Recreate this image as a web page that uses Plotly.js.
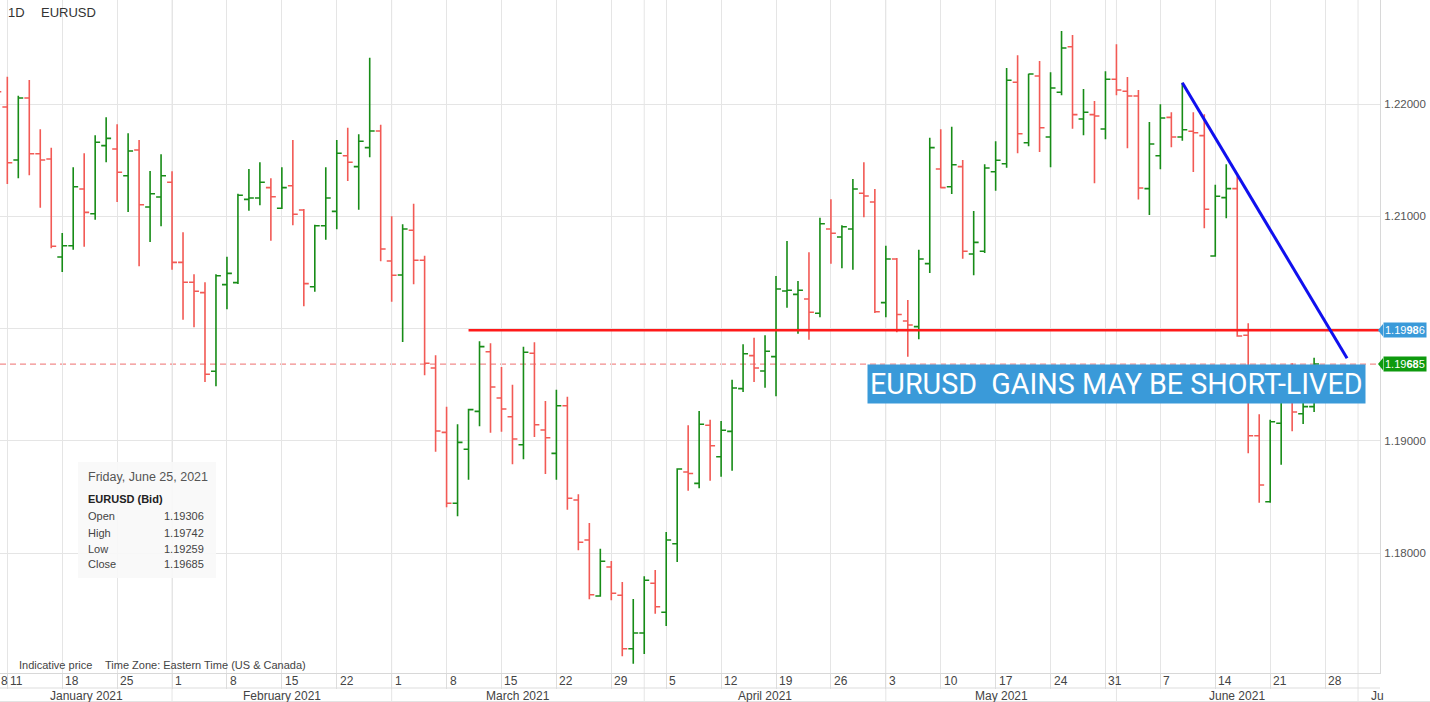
<!DOCTYPE html>
<html>
<head>
<meta charset="utf-8">
<script src="https://cdn.plot.ly/plotly-3.0.1.min.js"></script>
<style>html,body{margin:0;padding:0;background:#fff;}#chart{width:1430px;height:702px;}</style>
</head>
<body>
<div id="chart"></div>
<script>
// ---------- DATA ----------
const symbol = 'EURUSD';
const timeframe = '1D';
const dates = [
 '2021-01-08',
 '2021-01-11','2021-01-12','2021-01-13','2021-01-14','2021-01-15',
 '2021-01-18','2021-01-19','2021-01-20','2021-01-21','2021-01-22',
 '2021-01-25','2021-01-26','2021-01-27','2021-01-28','2021-01-29',
 '2021-02-01','2021-02-02','2021-02-03','2021-02-04','2021-02-05',
 '2021-02-08','2021-02-09','2021-02-10','2021-02-11','2021-02-12',
 '2021-02-15','2021-02-16','2021-02-17','2021-02-18','2021-02-19',
 '2021-02-22','2021-02-23','2021-02-24','2021-02-25','2021-02-26',
 '2021-03-01','2021-03-02','2021-03-03','2021-03-04','2021-03-05',
 '2021-03-08','2021-03-09','2021-03-10','2021-03-11','2021-03-12',
 '2021-03-15','2021-03-16','2021-03-17','2021-03-18','2021-03-19',
 '2021-03-22','2021-03-23','2021-03-24','2021-03-25','2021-03-26',
 '2021-03-29','2021-03-30','2021-03-31','2021-04-01','2021-04-02',
 '2021-04-05','2021-04-06','2021-04-07','2021-04-08','2021-04-09',
 '2021-04-12','2021-04-13','2021-04-14','2021-04-15','2021-04-16',
 '2021-04-19','2021-04-20','2021-04-21','2021-04-22','2021-04-23',
 '2021-04-26','2021-04-27','2021-04-28','2021-04-29','2021-04-30',
 '2021-05-03','2021-05-04','2021-05-05','2021-05-06','2021-05-07',
 '2021-05-10','2021-05-11','2021-05-12','2021-05-13','2021-05-14',
 '2021-05-17','2021-05-18','2021-05-19','2021-05-20','2021-05-21',
 '2021-05-24','2021-05-25','2021-05-26','2021-05-27','2021-05-28',
 '2021-05-31','2021-06-01','2021-06-02','2021-06-03','2021-06-04',
 '2021-06-07','2021-06-08','2021-06-09','2021-06-10','2021-06-11',
 '2021-06-14','2021-06-15','2021-06-16','2021-06-17','2021-06-18',
 '2021-06-21','2021-06-22','2021-06-23','2021-06-24','2021-06-25'
];
const open = [
 1.22700,
 1.21974,1.21502,1.22054,1.21558,1.21511,
 1.20638,1.20739,1.21244,1.21024,1.21630,
 1.21600,1.21362,1.21591,1.21084,1.21173,
 1.21304,1.20591,1.20413,1.20321,1.19621,
 1.20392,1.20410,1.21152,1.21164,1.21256,
 1.21072,1.21273,1.21057,1.20374,1.20917,
 1.21045,1.21540,1.21443,1.21612,1.21760,
 1.20603,1.20478,1.20876,1.20609,1.19650,
 1.19077,1.18445,1.18926,1.19264,1.19795,
 1.19383,1.19216,1.18967,1.19781,1.19098,
 1.18890,1.19314,1.18475,1.18118,1.17620,
 1.17878,1.17626,1.17150,1.17290,1.17733,
 1.17475,1.18085,1.18724,1.18623,1.19140,
 1.18860,1.19086,1.19466,1.19760,1.19623,
 1.19751,1.20336,1.20306,1.20264,1.20137,
 1.20888,1.20817,1.20888,1.21206,1.21128,
 1.20232,1.20621,1.20069,1.20018,1.20579,
 1.21422,1.21264,1.21443,1.20665,1.20689,
 1.21398,1.21469,1.22194,1.21656,1.22250,
 1.21707,1.22105,1.22511,1.21867,1.21906,
 1.21778,1.22221,1.22114,1.22072,1.21247,
 1.21540,1.21882,1.21707,1.21758,1.21719,
 1.20647,1.21167,1.21247,1.19941,1.19047,
 1.18459,1.19158,1.19436,1.19243,1.19306
];
const high = [
 1.22830,
 1.22244,1.22075,1.22215,1.21776,1.21612,
 1.20852,1.21437,1.21562,1.21722,1.21882,
 1.21820,1.21740,1.21680,1.21404,1.21553,
 1.21402,1.20858,1.20484,1.20413,1.20484,
 1.20641,1.21202,1.21422,1.21482,1.21339,
 1.21437,1.21680,1.21065,1.20926,1.21437,
 1.21680,1.21790,1.21731,1.22413,1.21817,
 1.21001,1.20930,1.21113,1.20650,1.19763,
 1.19305,1.19149,1.19288,1.19888,1.19870,
 1.19659,1.19501,1.19840,1.19879,1.19356,
 1.19457,1.19394,1.18525,1.18270,1.18041,
 1.17931,1.17744,1.17593,1.17795,1.17851,
 1.18190,1.18757,1.19140,1.19267,1.19190,
 1.19178,1.19546,1.19861,1.19920,1.19941,
 1.20469,1.20781,1.20425,1.20680,1.20988,
 1.21152,1.20921,1.21333,1.21482,1.21244,
 1.20739,1.20630,1.20256,1.20703,1.21701,
 1.21776,1.21799,1.21502,1.21048,1.21464,
 1.21669,1.22321,1.22435,1.22271,1.22384,
 1.22283,1.22651,1.22615,1.22134,1.22028,
 1.22292,1.22532,1.22241,1.22126,1.21841,
 1.21998,1.21927,1.22191,1.21927,1.21909,
 1.21282,1.21464,1.21357,1.20048,1.19238,
 1.19190,1.19480,1.19692,1.19472,1.19742
];
const low = [
 1.21660,
 1.21289,1.21339,1.21366,1.21077,1.20716,
 1.20505,1.20703,1.20730,1.20971,1.21482,
 1.21128,1.21039,1.20556,1.20772,1.20912,
 1.20525,1.20080,1.20012,1.19525,1.19487,
 1.20173,1.20398,1.21051,1.21099,1.20784,
 1.21066,1.20921,1.20199,1.20329,1.20793,
 1.20885,1.21315,1.21060,1.21526,1.20600,
 1.20240,1.19882,1.20395,1.19585,1.18905,
 1.18410,1.18329,1.18655,1.19131,1.19074,
 1.19083,1.18793,1.18837,1.19036,1.18706,
 1.18655,1.18388,1.18027,1.17590,1.17614,
 1.17581,1.17083,1.17017,1.17103,1.17462,
 1.17353,1.17923,1.18557,1.18579,1.18646,
 1.18682,1.18736,1.19436,1.19525,1.19475,
 1.19398,1.20187,1.19955,1.19902,1.20101,
 1.20579,1.20538,1.20525,1.20992,1.20140,
 1.20101,1.19968,1.19751,1.19906,1.20496,
 1.21250,1.21199,1.20623,1.20476,1.20674,
 1.21229,1.21434,1.21562,1.21624,1.21573,
 1.21437,1.22078,1.21781,1.21722,1.21295,
 1.21687,1.22078,1.21606,1.21150,1.21012,
 1.21419,1.21615,1.21674,1.21395,1.20894,
 1.20641,1.20983,1.19929,1.18890,1.18451,
 1.18451,1.18789,1.19086,1.19151,1.19259
];
const close = [
 1.22110,
 1.21478,1.22054,1.21558,1.21502,1.20734,
 1.20739,1.21264,1.21036,1.21660,1.21695,
 1.21393,1.21582,1.21104,1.21202,1.21362,
 1.20591,1.20413,1.20333,1.19594,1.20472,
 1.20493,1.21188,1.21164,1.21304,1.21175,
 1.21256,1.21019,1.20401,1.20917,1.21164,
 1.21562,1.21482,1.21669,1.21760,1.20710,
 1.20476,1.20888,1.20609,1.19692,1.19089,
 1.18445,1.18988,1.19279,1.19840,1.19481,
 1.19285,1.19018,1.19790,1.19145,1.19029,
 1.19314,1.18490,1.18098,1.17631,1.17929,
 1.17644,1.17150,1.17290,1.17760,1.17524,
 1.18118,1.18751,1.18711,1.19149,1.18958,
 1.19095,1.19472,1.19777,1.19650,1.19799,
 1.20354,1.20342,1.20342,1.20146,1.20935,
 1.20850,1.20908,1.21244,1.21182,1.20151,
 1.20621,1.20126,1.20033,1.20621,1.21612,
 1.21256,1.21460,1.20689,1.20769,1.21431,
 1.21500,1.22212,1.21736,1.22268,1.21790,
 1.22143,1.22500,1.21906,1.21927,1.21894,
 1.22221,1.22126,1.22072,1.21253,1.21645,
 1.21876,1.21707,1.21772,1.21745,1.21063,
 1.21179,1.21247,1.19935,1.19047,1.18608,
 1.19172,1.19436,1.19258,1.19306,1.19685
];
// horizontal resistance level and trend line
const resistanceLevel = 1.19986;
const resistanceFrom = '2021-03-10';
const resistanceTo = '2021-07-05';
const trendX = ['2021-06-09', '2021-06-30'];
const trendY = [1.22191, 1.19736];
// axis labels
const yTickVals = [1.18, 1.19, 1.20, 1.21, 1.22];
const yTickText = ['1.18000', '1.19000', '', '1.21000', '1.22000'];
const weekTicks = ['2021-01-11','2021-01-18','2021-01-25','2021-02-01','2021-02-08','2021-02-15','2021-02-22',
 '2021-03-01','2021-03-08','2021-03-15','2021-03-22','2021-03-29','2021-04-05','2021-04-12','2021-04-19','2021-04-26',
 '2021-05-03','2021-05-10','2021-05-17','2021-05-24','2021-05-31','2021-06-07','2021-06-14','2021-06-21','2021-06-28'];
const weekLabels = ['11','18','25','1','8','15','22','1','8','15','22','29','5','12','19','26','3','10','17','24','31','7','14','21','28'];
const firstPartialLabel = '8';   // label of the partly visible first week at the left edge
const monthStarts = ['2021-02-01','2021-03-01','2021-04-01','2021-05-03','2021-06-01','2021-07-01'];
const monthLabels = ['January 2021','February 2021','March 2021','April 2021','May 2021','June 2021'];
const monthLabelAt = ['2021-01-20 04:00','2021-02-15','2021-03-16 12:00','2021-04-16','2021-05-17 12:00','2021-06-16'];
const clippedMonthLabel = 'Ju';
const clippedMonthAt = '2021-07-02';
const headline = 'EURUSD\u00a0 GAINS MAY BE SHORT-LIVED';
const infoDate = 'Friday, June 25, 2021';
const infoTitle = 'EURUSD (Bid)';
const infoRows = ['Open', 'High', 'Low', 'Close'];
const footLeft = 'Indicative price';
const footRight = 'Time Zone: Eastern Time (US & Canada)';

// ---------- LAYOUT HELPERS (pixel -> paper) ----------
const W = 1430, H = 702, ML = 0, MR = 50, MT = 0, MB = 29;
const PW = W - ML - MR, PH = H - MT - MB;
const px = x => (x - ML) / PW;
const py = y => (MT + PH - y) / PH;

const GREEN = '#178c17', RED = '#f25a55', GRID = '#e5e5e5';
const FONT = 'Liberation Sans, Arial, sans-serif';

const last = dates.length - 1;

const traces = [
  {
    type: 'ohlc', x: dates, open: open, high: high, low: low, close: close,
    increasing: {line: {color: GREEN, width: 1.6}},
    decreasing: {line: {color: RED, width: 1.6}},
    tickwidth: 0.45, hoverinfo: 'none', showlegend: false
  },
  {
    type: 'scatter', mode: 'lines', x: [resistanceFrom, resistanceTo], y: [resistanceLevel, resistanceLevel],
    line: {color: '#ff1a1a', width: 2.6}, hoverinfo: 'none', showlegend: false, cliponaxis: true
  },
  {
    type: 'scatter', mode: 'lines', x: trendX, y: trendY,
    line: {color: '#1010ee', width: 3}, hoverinfo: 'none', showlegend: false
  }
];

const shapes = [];
// month gridlines (plot + bottom bar)
monthStarts.forEach(d => {
  shapes.push({type: 'line', xref: 'x', yref: 'paper', x0: d, x1: d, y0: py(702), y1: 1,
    line: {color: GRID, width: 1}, layer: 'below'});
});
// last-price dashed line
shapes.push({type: 'line', xref: 'paper', yref: 'y', x0: 0, x1: 1, y0: close[last], y1: close[last],
  line: {color: '#f28c8c', width: 1.2, dash: '6px,4px'}, layer: 'below'});
// horizontal line separating tick row and month row
shapes.push({type: 'line', xref: 'paper', yref: 'paper', x0: 0, x1: 1, y0: py(688), y1: py(688),
  line: {color: '#dddddd', width: 1}});
shapes.push({type: 'line', xref: 'paper', yref: 'paper', x0: 0, x1: px(W), y0: py(701.5), y1: py(701.5),
  line: {color: '#e3e3e3', width: 1}});
// info panel background
shapes.push({type: 'rect', xref: 'paper', yref: 'paper', x0: px(78), x1: px(216), y0: py(578), y1: py(462),
  fillcolor: 'rgba(248,248,248,0.92)', line: {width: 0}});
// pointers on price labels
[[resistanceLevel, '#3a9ad9'], [close[last], '#0e9a0e']].forEach(([v, c]) => {
  shapes.push({type: 'path', xref: 'paper', yref: 'y',
    path: `M ${px(1378)} ${v} L ${px(1383)} ${v + 0.00055} L ${px(1383)} ${v - 0.00055} Z`,
    fillcolor: c, line: {width: 0}});
});

const ann = [];
const txt = (text, x, y, opts) => Object.assign({
  text: text, xref: 'paper', yref: 'paper', x: px(x), y: py(y), xanchor: 'left', yanchor: 'middle',
  showarrow: false, font: {family: FONT, size: 11, color: '#444'}
}, opts || {});

ann.push(txt(timeframe, 6, 12, {font: {family: FONT, size: 13, color: '#333'}}));
ann.push(txt(symbol, 39, 12, {font: {family: FONT, size: 13, color: '#333'}}));

ann.push(txt(infoDate, 86, 477, {font: {family: FONT, size: 12.5, color: '#555'}}));
ann.push(txt('<b>' + infoTitle + '</b>', 86, 499, {font: {family: FONT, size: 11, color: '#222'}}));
const infoVals = [open[last], high[last], low[last], close[last]];
const rowY = [516, 533, 548.5, 564];
infoRows.forEach((r, i) => {
  ann.push(txt(r, 86, rowY[i], {font: {family: FONT, size: 11, color: '#444'}}));
  ann.push(txt(infoVals[i].toFixed(5), 206, rowY[i], {xanchor: 'right', font: {family: FONT, size: 11, color: '#444'}}));
});

ann.push(txt(footLeft, 17, 665, {font: {family: FONT, size: 11, color: '#444'}}));
ann.push(txt(footRight, 103, 665, {font: {family: FONT, size: 11, color: '#444'}}));

// headline box
ann.push(txt(headline, 1116.5, 384, {xanchor: 'center', bgcolor: '#3a9ad9', borderpad: 2,
  font: {family: 'Roboto, Liberation Sans, sans-serif', size: 28.7, color: '#ffffff'}}));

// price labels on the right
const priceLabel = (v, bg) => {
  const s = v.toFixed(5);
  return {text: s.slice(0, 4) + '<b>' + s.slice(4, 6) + '</b>' + s.slice(6), xref: 'paper', yref: 'y',
    x: px(1383), y: v, xanchor: 'left', yanchor: 'middle', showarrow: false, bgcolor: bg, borderpad: 1,
    font: {family: FONT, size: 11, color: '#ffffff'}};
};
ann.push(priceLabel(resistanceLevel, '#3a9ad9'));
ann.push(priceLabel(close[last], '#0e9a0e'));

// weekly tick labels (left aligned to gridlines)
ann.push(txt(firstPartialLabel, -1, 681, {font: {family: FONT, size: 12, color: '#444'}}));
weekTicks.forEach((d, i) => {
  ann.push({text: weekLabels[i], xref: 'x', yref: 'paper', x: d, y: py(681), xanchor: 'left', yanchor: 'middle',
    xshift: 1, showarrow: false, font: {family: FONT, size: 12, color: '#444'}});
});
monthLabels.forEach((m, i) => {
  ann.push({text: m, xref: 'x', yref: 'paper', x: monthLabelAt[i], y: py(695.5), xanchor: 'center', yanchor: 'middle',
    showarrow: false, font: {family: FONT, size: 12, color: '#444'}});
});
ann.push({text: clippedMonthLabel, xref: 'x', yref: 'paper', x: clippedMonthAt, y: py(695.5), xanchor: 'left', yanchor: 'middle',
  showarrow: false, font: {family: FONT, size: 12, color: '#444'}});

const layout = {
  width: W, height: H,
  margin: {l: ML, r: MR, t: MT, b: MB, pad: 0},
  paper_bgcolor: '#ffffff', plot_bgcolor: '#ffffff',
  showlegend: false, dragmode: false,
  xaxis: {
    type: 'date', range: ['2021-01-08 08:00', '2021-07-05 00:00'],
    rangebreaks: [{bounds: ['sat', 'mon']}],
    rangeslider: {visible: false},
    tickmode: 'array', tickvals: weekTicks, showticklabels: false,
    ticks: 'outside', ticklen: 15, tickcolor: '#dddddd', tickwidth: 1,
    showgrid: true, gridcolor: GRID, gridwidth: 1,
    showline: true, linecolor: '#d8d8d8', linewidth: 1, zeroline: false, fixedrange: true
  },
  yaxis: {
    side: 'right', range: [1.16934, 1.22927],
    tickmode: 'array', tickvals: yTickVals, ticktext: yTickText,
    ticks: '', ticklabelstandoff: 1,
    tickfont: {family: FONT, size: 11.5, color: '#555'},
    showgrid: true, gridcolor: GRID, gridwidth: 1,
    showline: true, linecolor: '#d8d8d8', linewidth: 1, zeroline: false, fixedrange: true
  },
  shapes: shapes,
  annotations: ann
};

Plotly.newPlot('chart', traces, layout, {displayModeBar: false, staticPlot: true});
</script>
</body>
</html>
